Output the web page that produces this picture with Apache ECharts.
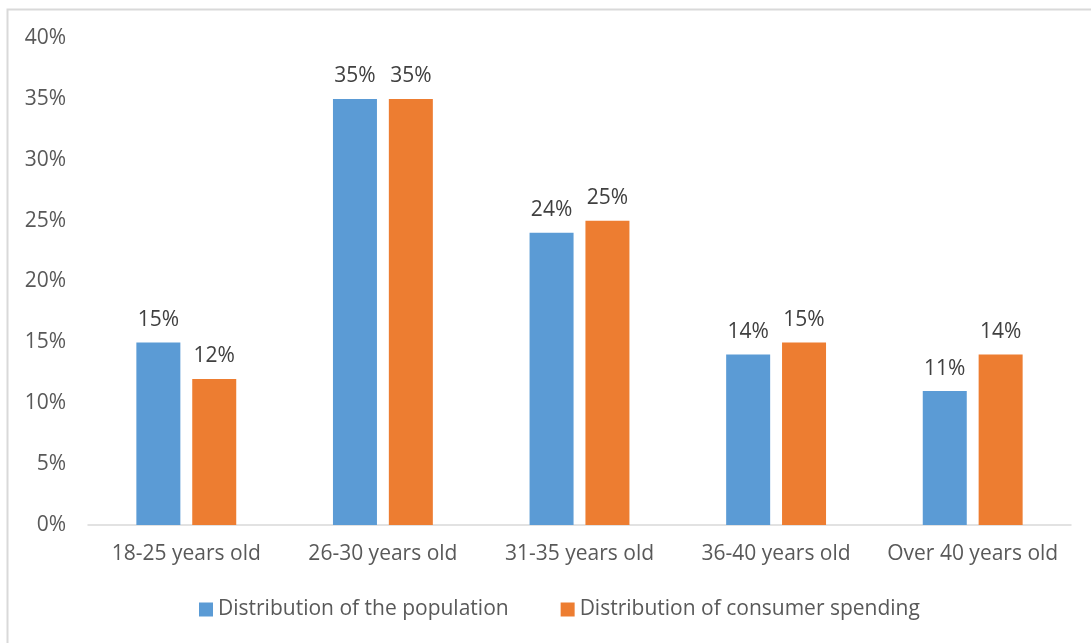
<!DOCTYPE html>
<html>
<head>
<meta charset="utf-8">
<script src="https://cdn.jsdelivr.net/npm/echarts@6/dist/echarts.min.js"></script>
<style>
  html, body { margin: 0; padding: 0; background: #fff; }
  #chart { width: 1091px; height: 643px; }
</style>
</head>
<body>
<div id="chart"></div>
<script>
const categories = ["18-25 years old", "26-30 years old", "31-35 years old", "36-40 years old", "Over 40 years old"];
const population = [15, 35, 24, 14, 11];
const spending = [12, 35, 25, 15, 14];
const seriesNames = ["Distribution of the population", "Distribution of consumer spending"];

const textColor = "#595959";
const font = "'Open Sans', 'Noto Sans', sans-serif";

const chart = echarts.init(document.getElementById("chart"));

const option = {
  animation: false,
  color: ["#5b9bd5", "#ed7d31"],
  textStyle: { fontFamily: font },
  // light outer frame
  graphic: [
    {
      type: "rect",
      shape: { x: 7.5, y: 9.5, width: 1200, height: 800 },
      style: { fill: "none", stroke: "#d9d9d9", lineWidth: 2 },
      silent: true,
    },
  ],
  grid: { left: 88, right: 20, top: 38, bottom: 118 },
  legend: {
    bottom: 18,
    left: 194,
    itemWidth: 14,
    itemHeight: 14,
    itemGap: 52,
    icon: "rect",
    textStyle: { color: textColor, fontSize: 21, fontFamily: font },
  },
  xAxis: {
    type: "category",
    data: categories,
    axisLine: { lineStyle: { color: "#d9d9d9", width: 1.5 } },
    axisTick: { show: false },
    axisLabel: { color: textColor, fontSize: 21, margin: 19, interval: 0 },
  },
  yAxis: {
    type: "value",
    min: 0,
    max: 40,
    interval: 5,
    splitLine: { show: false },
    axisLabel: { color: textColor, fontSize: 21, margin: 22, formatter: "{value}%" },
  },
  series: [
    {
      name: seriesNames[0],
      type: "bar",
      data: population,
      barWidth: 44,
      barGap: "27%",
      label: { show: true, position: "top", distance: 12, color: "#404040", fontSize: 21, formatter: "{c}%" },
    },
    {
      name: seriesNames[1],
      type: "bar",
      data: spending,
      barWidth: 44,
      label: { show: true, position: "top", distance: 12, color: "#404040", fontSize: 21, formatter: "{c}%" },
    },
  ],
};

chart.setOption(option);
</script>
</body>
</html>
